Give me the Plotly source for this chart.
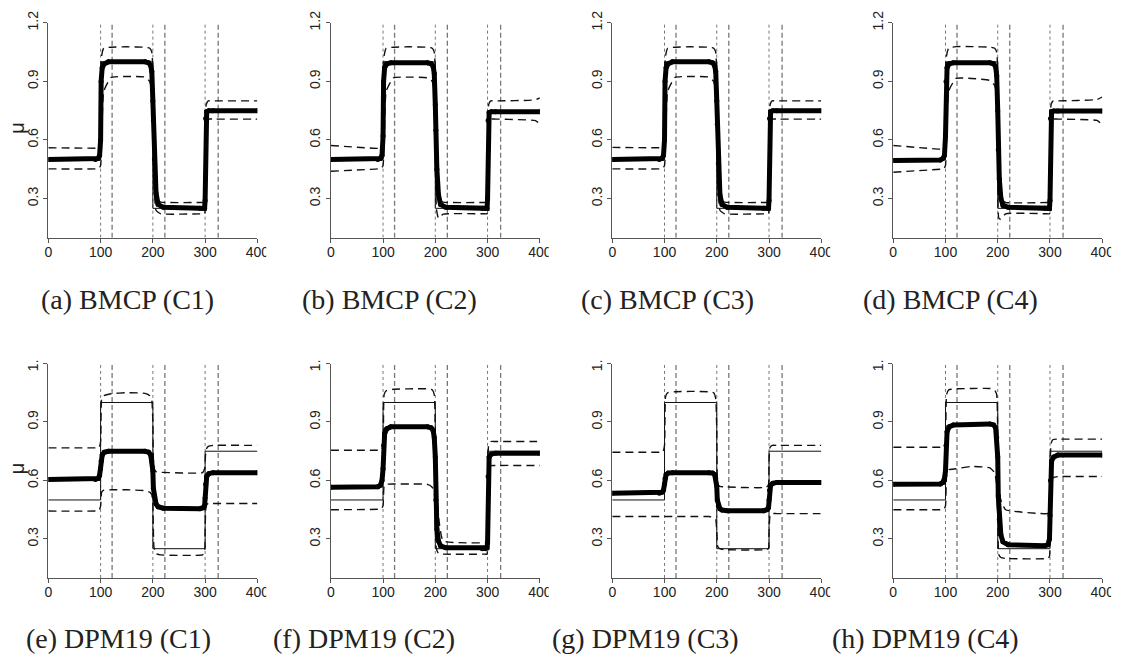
import plotly.graph_objects as go

# ---------------- data ----------------
X_TICKS = [0, 100, 200, 300, 400]
Y_TICKS = [0.3, 0.6, 0.9, 1.2]
TRUE_CP = [100, 200, 300]          # true change points (dotted)
EST_CP = [122, 223, 325]           # estimated change points (dashed)
TRUE_X = [0, 100, 100, 200, 200, 300, 300, 400]
TRUE_Y = [0.5, 0.5, 1.0, 1.0, 0.25, 0.25, 0.75, 0.75]

EST_X = [0, 90, 95, 98, 100, 101, 103, 107, 115, 185, 192, 196, 198, 200,
         201, 203, 206, 210, 220, 290, 296, 299, 300, 301, 303, 307, 315, 400]
BAND_X = [0, 90, 97, 100, 102, 106, 120, 150, 185, 194, 198, 200, 202, 206,
          215, 295, 299, 300, 302, 306, 315, 390, 400]

CAPTIONS = ["(a) BMCP (C1)", "(b) BMCP (C2)", "(c) BMCP (C3)", "(d) BMCP (C4)",
            "(e) DPM19 (C1)", "(f) DPM19 (C2)", "(g) DPM19 (C3)", "(h) DPM19 (C4)"]

A_EST = [0.50, 0.50, 0.505, 0.52, 0.60, 0.90, 0.97, 0.99, 1.0, 1.0, 0.995, 0.98, 0.95, 0.80,
         0.70, 0.50, 0.33, 0.27, 0.255, 0.25, 0.25, 0.25, 0.29, 0.71, 0.745, 0.75, 0.75, 0.75]
A_UP = [0.56, 0.558, 0.558, 0.62, 1.03, 1.07, 1.075, 1.077, 1.075, 1.07, 1.05, 0.95, 0.50,
        0.30, 0.282, 0.28, 0.28, 0.30, 0.78, 0.80, 0.80, 0.80, 0.80]
A_LO = [0.452, 0.452, 0.455, 0.47, 0.60, 0.85, 0.92, 0.925, 0.922, 0.90, 0.85, 0.70, 0.40,
        0.24, 0.222, 0.222, 0.222, 0.24, 0.70, 0.707, 0.707, 0.707, 0.707]

B_EST = [0.50, 0.50, 0.505, 0.52, 0.62, 0.90, 0.97, 0.99, 0.995, 0.995, 0.99, 0.975, 0.94, 0.78,
         0.65, 0.45, 0.32, 0.27, 0.255, 0.25, 0.25, 0.25, 0.30, 0.70, 0.74, 0.745, 0.745, 0.745]
B_UP = [0.572, 0.557, 0.56, 0.62, 1.03, 1.07, 1.075, 1.077, 1.075, 1.07, 1.05, 0.95, 0.50,
        0.30, 0.282, 0.28, 0.28, 0.30, 0.78, 0.80, 0.80, 0.805, 0.815]
B_LO = [0.44, 0.452, 0.455, 0.47, 0.60, 0.85, 0.918, 0.922, 0.918, 0.90, 0.85, 0.60, 0.25,
        0.20, 0.22, 0.222, 0.222, 0.24, 0.70, 0.707, 0.707, 0.70, 0.685]

C_EST = [0.50, 0.50, 0.505, 0.52, 0.60, 0.90, 0.97, 0.99, 1.0, 1.0, 0.995, 0.98, 0.95, 0.80,
         0.68, 0.48, 0.32, 0.27, 0.255, 0.25, 0.25, 0.25, 0.29, 0.71, 0.745, 0.75, 0.75, 0.75]
C_UP = [0.562, 0.56, 0.56, 0.62, 1.03, 1.07, 1.075, 1.077, 1.075, 1.07, 1.05, 0.95, 0.50,
        0.30, 0.282, 0.28, 0.28, 0.30, 0.78, 0.80, 0.80, 0.80, 0.80]
C_LO = [0.452, 0.452, 0.455, 0.47, 0.60, 0.85, 0.92, 0.925, 0.922, 0.90, 0.85, 0.70, 0.40,
        0.24, 0.222, 0.222, 0.222, 0.24, 0.70, 0.707, 0.707, 0.707, 0.707]

D_EST = [0.495, 0.497, 0.505, 0.52, 0.62, 0.90, 0.97, 0.99, 0.995, 0.995, 0.99, 0.975, 0.93, 0.75,
         0.55, 0.40, 0.30, 0.265, 0.255, 0.25, 0.25, 0.25, 0.29, 0.71, 0.745, 0.748, 0.748, 0.748]
D_UP = [0.572, 0.553, 0.555, 0.62, 1.03, 1.07, 1.078, 1.078, 1.075, 1.07, 1.05, 0.95, 0.50,
        0.30, 0.28, 0.28, 0.28, 0.30, 0.78, 0.80, 0.80, 0.807, 0.82]
D_LO = [0.435, 0.45, 0.452, 0.47, 0.60, 0.85, 0.915, 0.915, 0.905, 0.88, 0.83, 0.55, 0.20,
        0.195, 0.222, 0.222, 0.222, 0.24, 0.70, 0.707, 0.707, 0.70, 0.678]

E_EST = [0.605, 0.605, 0.61, 0.625, 0.66, 0.70, 0.73, 0.745, 0.75, 0.75, 0.745, 0.73, 0.70, 0.65,
         0.56, 0.52, 0.48, 0.465, 0.458, 0.455, 0.46, 0.47, 0.51, 0.58, 0.62, 0.635, 0.64, 0.64]
E_UP = [0.767, 0.767, 0.767, 0.80, 1.02, 1.035, 1.045, 1.05, 1.047, 1.035, 1.01, 0.90, 0.66,
        0.645, 0.642, 0.64, 0.66, 0.70, 0.76, 0.775, 0.78, 0.78, 0.78]
E_LO = [0.443, 0.443, 0.445, 0.47, 0.54, 0.55, 0.552, 0.552, 0.548, 0.54, 0.525, 0.48, 0.26,
        0.225, 0.218, 0.218, 0.23, 0.35, 0.47, 0.482, 0.482, 0.482, 0.482]

F_EST = [0.565, 0.568, 0.575, 0.60, 0.66, 0.78, 0.84, 0.865, 0.875, 0.875, 0.87, 0.855, 0.82, 0.72,
         0.50, 0.35, 0.29, 0.265, 0.255, 0.25, 0.25, 0.255, 0.28, 0.62, 0.72, 0.735, 0.74, 0.74]
F_UP = [0.755, 0.755, 0.755, 0.78, 1.04, 1.06, 1.068, 1.07, 1.07, 1.065, 1.04, 0.85, 0.62,
        0.42, 0.29, 0.28, 0.28, 0.40, 0.78, 0.80, 0.80, 0.80, 0.80]
F_LO = [0.45, 0.452, 0.455, 0.47, 0.57, 0.58, 0.582, 0.582, 0.58, 0.565, 0.54, 0.38, 0.25,
        0.225, 0.222, 0.222, 0.222, 0.26, 0.66, 0.676, 0.677, 0.677, 0.677]

G_EST = [0.535, 0.535, 0.54, 0.55, 0.58, 0.61, 0.63, 0.638, 0.64, 0.64, 0.638, 0.63, 0.61, 0.57,
         0.50, 0.47, 0.455, 0.448, 0.445, 0.445, 0.45, 0.46, 0.50, 0.55, 0.575, 0.585, 0.59, 0.59]
G_UP = [0.745, 0.745, 0.745, 0.78, 1.03, 1.05, 1.055, 1.057, 1.055, 1.05, 1.02, 0.85, 0.58,
        0.57, 0.567, 0.565, 0.58, 0.70, 0.77, 0.78, 0.78, 0.78, 0.78]
G_LO = [0.415, 0.415, 0.415, 0.415, 0.415, 0.415, 0.415, 0.415, 0.415, 0.41, 0.40, 0.34, 0.26,
        0.25, 0.245, 0.245, 0.25, 0.33, 0.42, 0.43, 0.43, 0.43, 0.43]

H_EST = [0.58, 0.582, 0.59, 0.61, 0.65, 0.78, 0.85, 0.875, 0.885, 0.89, 0.885, 0.87, 0.82, 0.72,
         0.52, 0.40, 0.32, 0.285, 0.27, 0.265, 0.27, 0.30, 0.42, 0.60, 0.70, 0.72, 0.73, 0.73]
H_UP = [0.77, 0.77, 0.77, 0.80, 1.04, 1.065, 1.07, 1.072, 1.072, 1.065, 1.04, 0.85, 0.55,
        0.50, 0.45, 0.43, 0.44, 0.55, 0.79, 0.81, 0.812, 0.812, 0.812]
H_LO = [0.45, 0.45, 0.452, 0.47, 0.62, 0.655, 0.66, 0.672, 0.665, 0.64, 0.58, 0.40, 0.22,
        0.205, 0.20, 0.20, 0.21, 0.35, 0.60, 0.615, 0.62, 0.62, 0.62]

PANELS = [(A_EST, A_UP, A_LO), (B_EST, B_UP, B_LO), (C_EST, C_UP, C_LO), (D_EST, D_UP, D_LO),
          (E_EST, E_UP, E_LO), (F_EST, F_UP, F_LO), (G_EST, G_UP, G_LO), (H_EST, H_UP, H_LO)]

# ---------------- layout geometry (pixels) ----------------
W, H = 1131, 661
COL_X0 = [45, 331.5, 617, 902]
PLOT_W = 212
ROW_Y = [(11, 229.8), (358, 576.4)]
CAP_CX = [[125, 391.5, 673.5, 960], [116.5, 365, 651, 935]]
CAP_Y = [293, 638]

AX_COL = "#555555"
VL_COL = "#777777"
TXT_COL = "#222222"

fig = go.Figure()
shapes = []

for i, (est, up, lo) in enumerate(PANELS):
    r, c = divmod(i, 4)
    n = "" if i == 0 else str(i + 1)
    xa, ya = "x" + n, "y" + n
    # vertical reference lines
    for cp in TRUE_CP:
        fig.add_trace(go.Scatter(x=[cp, cp], y=[0.1, 1.2], mode="lines", xaxis=xa, yaxis=ya,
                                 line=dict(color=VL_COL, width=1, dash="dot"),
                                 showlegend=False, hoverinfo="skip"))
    for cp in EST_CP:
        fig.add_trace(go.Scatter(x=[cp, cp], y=[0.1, 1.2], mode="lines", xaxis=xa, yaxis=ya,
                                 line=dict(color=VL_COL, width=1.3, dash="5px,3px"),
                                 showlegend=False, hoverinfo="skip"))
    # true mean
    fig.add_trace(go.Scatter(x=TRUE_X, y=TRUE_Y, mode="lines", xaxis=xa, yaxis=ya,
                             line=dict(color="#111111", width=1),
                             showlegend=False, hoverinfo="skip"))
    # credible bands
    for band in (up, lo):
        fig.add_trace(go.Scatter(x=BAND_X, y=band, mode="lines", xaxis=xa, yaxis=ya,
                                 line=dict(color="#111111", width=1.4, dash="8px,5px",
                                           shape="spline", smoothing=0.4),
                                 showlegend=False, hoverinfo="skip"))
    # posterior mean estimate
    fig.add_trace(go.Scatter(x=EST_X, y=est, mode="lines+markers", xaxis=xa, yaxis=ya,
                             line=dict(color="#000000", width=5),
                             marker=dict(color="#000000", size=5),
                             showlegend=False, hoverinfo="skip"))

    x0 = COL_X0[c]
    y0, y1 = ROW_Y[r]
    fig.layout["xaxis" + n] = dict(
        domain=[x0 / W, (x0 + PLOT_W) / W], range=[0, 400], anchor=ya,
        tickvals=X_TICKS, ticks="outside", ticklen=4, tickcolor=AX_COL, ticklabelstandoff=-3,
        showline=True, linecolor=AX_COL, linewidth=1.2, showgrid=False, zeroline=False,
        tickfont=dict(family="Liberation Sans, Arial", size=14, color=TXT_COL))
    fig.layout["yaxis" + n] = dict(
        domain=[1 - y1 / H, 1 - y0 / H], range=[0.1, 1.2], anchor=xa,
        tickvals=Y_TICKS, ticktext=[f"{v:.1f}" for v in Y_TICKS], tickangle=-90,
        ticks="outside", ticklen=4, tickcolor=AX_COL,
        showline=True, linecolor=AX_COL, linewidth=1.2, showgrid=False, zeroline=False,
        tickfont=dict(family="Liberation Sans, Arial", size=14, color=TXT_COL))

    # sub-figure crop edge (the original panels are cropped just right of "400")
    shapes.append(dict(type="rect", xref="paper", yref="paper", layer="above",
                       x0=(x0 + PLOT_W + 9) / W, x1=(x0 + PLOT_W + 24) / W,
                       y0=1 - (y1 + 26) / H, y1=1 - (y1 + 2) / H,
                       fillcolor="white", line=dict(width=0)))
    if r == 1:
        shapes.append(dict(type="rect", xref="paper", yref="paper", layer="above",
                           x0=(x0 - 30) / W, x1=(x0 - 3) / W,
                           y0=1 - (y0 - 3) / H, y1=1 - (y0 - 20) / H,
                           fillcolor="white", line=dict(width=0)))

    fig.add_annotation(text=CAPTIONS[i], xref="paper", yref="paper",
                       x=CAP_CX[r][c] / W, y=1 - CAP_Y[r] / H, xanchor="center", yanchor="middle",
                       showarrow=False,
                       font=dict(family="Liberation Serif, Times New Roman", size=28, color=TXT_COL))

# mu labels on first column
for r in range(2):
    fig.add_annotation(text="μ", xref="paper", yref="paper", x=13 / W,
                       y=1 - (ROW_Y[r][0] + 107) / H, textangle=-90, showarrow=False,
                       xanchor="center", yanchor="middle",
                       font=dict(family="Liberation Sans, Arial", size=20, color=TXT_COL))

fig.update_layout(width=W, height=H, margin=dict(l=0, r=0, t=0, b=0),
                  paper_bgcolor="white", plot_bgcolor="white", showlegend=False,
                  shapes=shapes)

fig.write_html("out.html")
